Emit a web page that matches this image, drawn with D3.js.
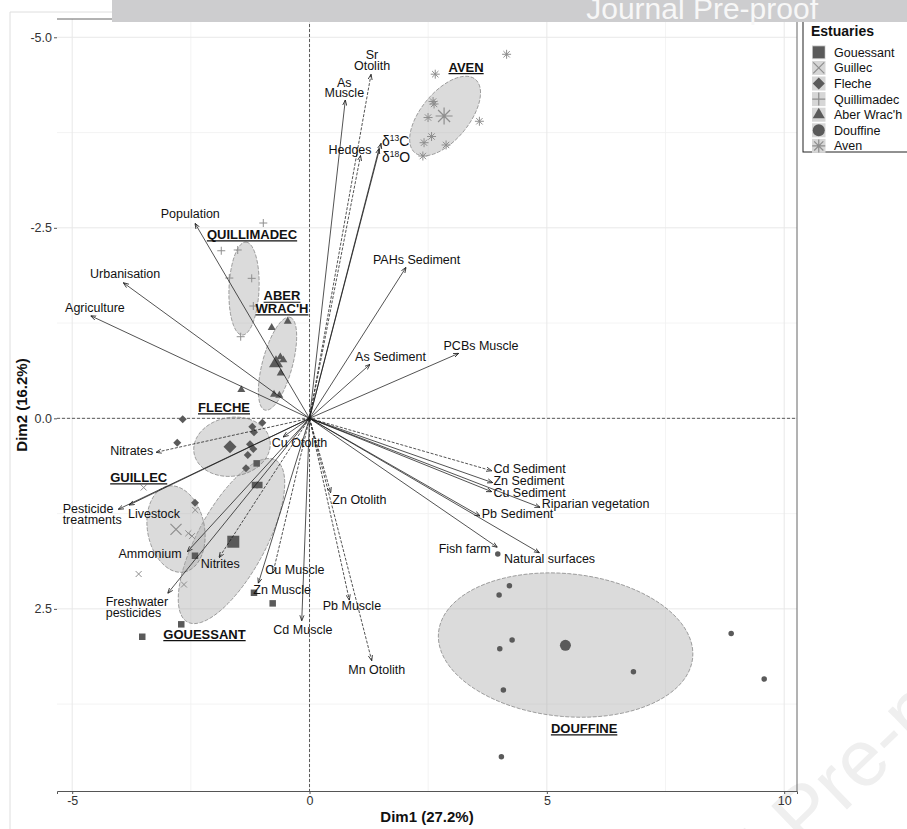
<!DOCTYPE html>
<html>
<head>
<meta charset="utf-8">
<script src="https://cdn.jsdelivr.net/npm/d3@7"></script>
<style>
  html, body { margin: 0; padding: 0; background: #fff; }
  svg { display: block; }
  text { font-family: "Liberation Sans", Arial, sans-serif; }
</style>
</head>
<body>
<svg id="chart" width="907" height="829"></svg>
<script>
// ---------------- data ----------------
const estuaries = ["Gouessant", "Guillec", "Fleche", "Quillimadec", "Aber Wrac'h", "Douffine", "Aven"];
const estuaryTitles = ["GOUESSANT", "GUILLEC", "FLECHE", "QUILLIMADEC", "ABER\nWRAC'H", "DOUFFINE", "AVEN"];

// individual coordinates [Dim1, Dim2] per estuary
const gouessantInd = [[-1.113, 0.591], [-1.149, 0.875], [-1.058, 0.875], [-2.413, 1.803], [-1.170, 2.289], [-0.776, 2.428], [-2.702, 2.703], [-3.524, 2.866]];
const guillecInd = [[-3.494, 0.908], [-2.407, 1.203], [-2.554, 1.509], [-2.476, 1.545], [-3.600, 2.043], [-2.645, 2.181]];
const flecheInd = [[-2.672, 0.013], [-0.995, 0.058], [-1.205, 0.110], [-1.170, 0.184], [-2.786, 0.320], [-1.254, 0.341], [-1.184, 0.403], [-1.302, 0.482], [-1.338, 0.656], [-2.413, 1.108]];
const quillimadecInd = [[-0.974, -2.563], [-1.859, -2.199], [-1.513, -2.209], [-1.690, -1.841], [-1.218, -1.837], [-1.184, -1.474], [-1.450, -1.071]];
const aberWrachInd = [[-0.459, -1.273], [-0.797, -1.189], [-0.615, -0.804], [-0.552, -0.765], [-0.607, -0.594], [-1.437, -0.375], [-0.748, -0.315], [-0.636, -0.302]];
const douffineInd = [[3.966, 1.781], [4.211, 2.197], [3.994, 2.319], [4.268, 2.909], [4.008, 3.024], [6.824, 3.325], [4.084, 3.566], [8.883, 2.822], [9.579, 3.421], [4.042, 4.441]];
const avenInd = [[4.152, -4.777], [2.649, -4.516], [2.603, -4.157], [2.624, -4.125], [2.497, -3.947], [3.579, -3.898], [2.571, -3.698], [2.413, -3.617], [2.877, -3.587], [2.388, -3.442]];
const individuals = [gouessantInd, guillecInd, flecheInd, quillimadecInd, aberWrachInd, douffineInd, avenInd];

// group means (null when not drawn)
const meanDim1 = [-1.606, -2.813, -1.675, null, -0.706, 5.391, 2.835];
const meanDim2 = [1.619, 1.457, 0.373, null, -0.722, 2.979, -3.967];

// concentration ellipses: centre and two semi-axis vectors, in Dim units
const ellipseCenter = [[-1.644, 1.610], [-2.813, 1.453], [-1.633, 0.373], [-1.380, -1.703], [-0.674, -0.717], [5.395, 2.975], [2.856, -3.967]];
const ellipseAxisA = [[0.927, -1.063], [0.169, 0.564], [0.801, -0.079], [0.042, -0.610], [0.263, -0.609], [2.677, 0.171], [0.640, -0.480]];
const ellipseAxisB = [[0.632, 0.210], [0.590, -0.066], [0.095, 0.381], [0.316, 0.013], [0.306, 0.051], [-0.158, 0.932], [0.385, 0.205]];

// variable loadings
const varNames = ["Sr Otolith", "As Muscle", "Hedges", "d13C", "d18O", "PAHs Sediment", "As Sediment", "PCBs Muscle",
  "Population", "Urbanisation", "Agriculture", "Nitrates", "Pesticide treatments", "Livestock", "Ammonium", "Nitrites",
  "Freshwater pesticides", "Cu Otolith", "Cu Muscle", "Zn Muscle", "Cd Muscle", "Zn Otolith", "Pb Muscle", "Mn Otolith",
  "Cd Sediment", "Zn Sediment", "Cu Sediment", "Riparian vegetation", "Pb Sediment", "Fish farm", "Natural surfaces"];
const varLabels = ["Sr\nOtolith", "As\nMuscle", "Hedges", "δ|13|C", "δ|18|O", "PAHs Sediment", "As Sediment", "PCBs Muscle",
  "Population", "Urbanisation", "Agriculture", "Nitrates", "Pesticide\ntreatments", "Livestock", "Ammonium", "Nitrites",
  "Freshwater\npesticides", "Cu Otolith", "Cu Muscle", "Zn Muscle", "Cd Muscle", "Zn Otolith", "Pb Muscle", "Mn Otolith",
  "Cd Sediment", "Zn Sediment", "Cu Sediment", "Riparian vegetation", "Pb Sediment", "Fish farm", "Natural surfaces"];
const varDim1 = [1.296, 0.754, 1.075, 1.507, 1.465, 2.034, 1.275, 3.144,
  -2.413, -3.924, -4.611, -3.235, -4.030, -3.804, -2.575, -1.907,
  -2.988, -0.558, -0.769, -1.079, -0.164, 0.447, 0.839, 1.311,
  3.840, 3.861, 3.840, 4.858, 3.593, 3.958, 4.843];
const varDim2 = [-4.514, -4.177, -3.449, -3.609, -3.541, -1.982, -0.709, -0.853,
  -2.559, -1.780, -1.346, 0.446, 1.194, 1.138, 1.751, 1.829,
  2.297, 0.245, 2.026, 2.165, 2.656, 0.976, 2.385, 3.181,
  0.688, 0.845, 0.963, 1.168, 1.282, 1.693, 1.764];

const xTicks = [-5, 0, 5, 10];
const yTicks = [-5, -2.5, 0, 2.5];
const xMinor = [-2.5, 2.5, 7.5];
const yMinor = [-3.75, -1.25, 1.25, 3.75];

// ---------------- styles & layout ----------------
const shapeOf = {"Gouessant": "square", "Guillec": "cross", "Fleche": "diamond", "Quillimadec": "plus",
  "Aber Wrac'h": "triangle", "Douffine": "circle", "Aven": "asterisk"};
const filledShapes = new Set(["square", "diamond", "triangle", "circle"]);
const smallSize = {square: 6.5, diamond: 8, triangle: 8, circle: 5.5, cross: 7, plus: 8, asterisk: 9};
const bigSize = {square: 12, diamond: 13, triangle: 14, circle: 11, cross: 13, plus: 12, asterisk: 17};
const darkGrey = "#5a5a5a", lightGrey = "#8e8e8e";
const dashedVars = new Set(["Sr Otolith", "Hedges", "Nitrates", "Nitrites", "Cu Muscle", "Zn Otolith", "Pb Muscle", "Mn Otolith", "Cd Sediment"]);

// label placement relative to the arrow tip (px): first-line centre
const labelLayout = {
  "Sr Otolith": [1, -19.5, "middle"], "As Muscle": [-1, -17.7, "middle"], "Hedges": [11, -5.5, "end"],
  "d13C": [1, -1.8, "start"], "d18O": [3, 9.2, "start"], "PAHs Sediment": [10.5, -7.3, "middle"],
  "As Sediment": [20.5, -7.6, "middle"], "PCBs Muscle": [22.3, -7.6, "middle"], "Population": [-4.7, -9.3, "middle"],
  "Urbanisation": [1.9, -8.7, "middle"], "Agriculture": [4.3, -8.4, "middle"], "Nitrates": [-2.7, -1.3, "end"],
  "Pesticide treatments": [-55.6, -1, "start"], "Livestock": [-1, 8.3, "start"], "Ammonium": [-5.6, 1.6, "end"],
  "Nitrites": [1.3, 6.3, "middle"], "Freshwater pesticides": [-62, 8.4, "start"], "Cu Otolith": [-11.3, 5.3, "start"],
  "Cu Muscle": [-7.7, -3.4, "start"], "Zn Muscle": [-5, 6, "start"], "Cd Muscle": [-28.4, 9.3, "start"],
  "Zn Otolith": [1.6, 6.6, "start"], "Pb Muscle": [-26.6, 6, "start"], "Mn Otolith": [5, 8.6, "middle"],
  "Cd Sediment": [1.6, -1.7, "start"], "Zn Sediment": [0.6, -1.7, "start"], "Cu Sediment": [1.6, 0.6, "start"],
  "Riparian vegetation": [1.7, -4, "start"], "Pb Sediment": [1.7, -2.7, "start"], "Fish farm": [-6.6, 1, "end"],
  "Natural surfaces": [-35.3, 5.6, "start"]
};
// estuary title offset from ellipse centre (px)
const titleOffset = [[-27, 93], [-37.3, -51.7], [-8, -39.4], [8, -54.2], [4.5, -68], [18.5, 83.3], [21, -49]];

// ---------------- drawing ----------------
const svg = d3.select("#chart");
const W = 907, H = 829;
const margin = {left: 57, right: 797, top: 19, bottom: 791};

// faint diagonal watermark
svg.append("text")
  .attr("transform", "translate(600,1048) rotate(-44)")
  .attr("font-family", "Liberation Serif, serif")
  .attr("font-size", 80)
  .attr("fill", "#efefef")
  .text("Journal Pre-proof");

// outer frame
svg.append("path").attr("d", `M10,829V12H907`).attr("fill", "none").attr("stroke", "#dedede").attr("stroke-width", 1);

const x = d3.scaleLinear().domain([-5.32, 10.27]).range([margin.left, margin.right]);
const y = d3.scaleLinear().domain([-5.24, 4.89]).range([margin.top, margin.bottom]);

const grid = svg.append("g");
grid.selectAll(".vmin").data(xMinor).join("line")
  .attr("x1", d => x(d)).attr("x2", d => x(d)).attr("y1", margin.top).attr("y2", margin.bottom)
  .attr("stroke", "#f0f0f0").attr("stroke-width", 0.8);
grid.selectAll(".hmin").data(yMinor).join("line")
  .attr("y1", d => y(d)).attr("y2", d => y(d)).attr("x1", margin.left).attr("x2", margin.right)
  .attr("stroke", "#f0f0f0").attr("stroke-width", 0.8);
grid.selectAll(".vmaj").data(xTicks).join("line")
  .attr("x1", d => x(d)).attr("x2", d => x(d)).attr("y1", margin.top).attr("y2", margin.bottom)
  .attr("stroke", "#e8e8e8").attr("stroke-width", 1);
grid.selectAll(".hmaj").data(yTicks).join("line")
  .attr("y1", d => y(d)).attr("y2", d => y(d)).attr("x1", margin.left).attr("x2", margin.right)
  .attr("stroke", "#e8e8e8").attr("stroke-width", 1);

// panel frame (top, right, bottom)
svg.append("path")
  .attr("d", `M${margin.left},${margin.top}H${margin.right}V${margin.bottom}`)
  .attr("fill", "none").attr("stroke", "#666").attr("stroke-width", 1);

// axes
const xAxis = svg.append("g").attr("transform", `translate(0,${margin.bottom})`)
  .call(d3.axisBottom(x).tickValues(xTicks).tickFormat(d => String(d)).tickSize(3).tickPadding(2));
const yAxis = svg.append("g").attr("transform", `translate(${margin.left},0)`)
  .call(d3.axisLeft(y).tickValues(yTicks).tickFormat(d => d.toFixed(1)).tickSize(3).tickPadding(2));
yAxis.select(".domain").remove();
xAxis.select(".domain").attr("stroke", "#555");
[xAxis, yAxis].forEach(a => {
  a.selectAll(".tick line").attr("stroke", "#555");
  a.selectAll(".tick text").attr("fill", "#333").attr("font-size", 12.5)
    .attr("font-family", "Liberation Sans, Arial, sans-serif");
});

// zero reference lines
svg.append("line").attr("x1", x(0)).attr("x2", x(0)).attr("y1", margin.top).attr("y2", margin.bottom)
  .attr("stroke", "#333").attr("stroke-width", 0.8).attr("stroke-dasharray", "3,2");
svg.append("line").attr("y1", y(0)).attr("y2", y(0)).attr("x1", margin.left).attr("x2", margin.right)
  .attr("stroke", "#333").attr("stroke-width", 0.8).attr("stroke-dasharray", "3,2");

// ellipses
const ellipsePath = i => {
  const c = ellipseCenter[i], a = ellipseAxisA[i], b = ellipseAxisB[i];
  const pts = d3.range(0, 361, 4).map(t => {
    const r = t * Math.PI / 180;
    return [x(c[0] + Math.cos(r) * a[0] + Math.sin(r) * b[0]), y(c[1] + Math.cos(r) * a[1] + Math.sin(r) * b[1])];
  });
  return d3.line()(pts) + "Z";
};
svg.append("g").selectAll("path").data(estuaries).join("path")
  .attr("d", (d, i) => ellipsePath(i))
  .attr("fill", "#a9a9a9").attr("fill-opacity", 0.42)
  .attr("stroke", "#7a7a7a").attr("stroke-width", 0.7).attr("stroke-dasharray", "4,1.5");

// symbols
function symbolPath(shape, s) {
  const r = s / 2;
  switch (shape) {
    case "square": return `M${-r},${-r}H${r}V${r}H${-r}Z`;
    case "diamond": return `M0,${-r}L${r},0L0,${r}L${-r},0Z`;
    case "triangle": { const h = s * 0.866; return `M0,${-h * 2 / 3}L${r},${h / 3}L${-r},${h / 3}Z`; }
    case "circle": return `M${r},0A${r},${r} 0 1,1 ${-r},0A${r},${r} 0 1,1 ${r},0Z`;
    case "plus": return `M${-r},0H${r}M0,${-r}V${r}`;
    case "cross": { const q = r * 0.85; return `M${-q},${-q}L${q},${q}M${-q},${q}L${q},${-q}`; }
    case "asterisk": { const q = r * 0.707; return `M${-r},0H${r}M0,${-r}V${r}M${-q},${-q}L${q},${q}M${-q},${q}L${q},${-q}`; }
  }
}
function styleSymbol(sel, shape, big) {
  if (filledShapes.has(shape)) sel.attr("fill", darkGrey).attr("stroke", "none");
  else sel.attr("fill", "none").attr("stroke", lightGrey).attr("stroke-width", big ? 1.2 : 1);
}

const pts = svg.append("g");
estuaries.forEach((name, i) => {
  const shape = shapeOf[name];
  const s = pts.selectAll(null).data(individuals[i]).join("path")
    .attr("transform", d => `translate(${x(d[0])},${y(d[1])})`)
    .attr("d", symbolPath(shape, smallSize[shape]));
  styleSymbol(s, shape, false);
  if (meanDim1[i] !== null) {
    const m = pts.append("path")
      .attr("transform", `translate(${x(meanDim1[i])},${y(meanDim2[i])})`)
      .attr("d", symbolPath(shape, bigSize[shape]));
    styleSymbol(m, shape, true);
  }
});

// arrows
const defs = svg.append("defs");
defs.append("marker").attr("id", "head").attr("viewBox", "0 0 10 10")
  .attr("refX", 10).attr("refY", 5).attr("markerWidth", 5.5).attr("markerHeight", 5.5)
  .attr("markerUnits", "userSpaceOnUse").attr("orient", "auto")
  .append("path").attr("d", "M0,1.2L10,5L0,8.8").attr("fill", "none")
  .attr("stroke", "#1a1a1a").attr("stroke-width", 1.4);

const arrows = svg.append("g");
varNames.forEach((n, i) => {
  arrows.append("line")
    .attr("x1", x(0)).attr("y1", y(0))
    .attr("x2", x(varDim1[i])).attr("y2", y(varDim2[i]))
    .attr("stroke", "#1a1a1a").attr("stroke-width", 0.75)
    .attr("stroke-dasharray", dashedVars.has(n) ? "3,1.5" : null)
    .attr("marker-end", "url(#head)");
});

// variable labels
const fs = 12.5, lh = 10.8;
const labels = svg.append("g").attr("font-size", fs).attr("fill", "#111");
varNames.forEach((n, i) => {
  const [dx, dy, anchor] = labelLayout[n];
  const px = x(varDim1[i]) + dx, py = y(varDim2[i]) + dy;
  const lines = varLabels[i].split("\n");
  lines.forEach((ln, k) => {
    const t = labels.append("text").attr("x", px).attr("y", py + k * lh + fs * 0.35).attr("text-anchor", anchor);
    if (ln.includes("|")) {
      const [a, sup, b] = ln.split("|");
      t.append("tspan").text(a).attr("font-size", 14);
      t.append("tspan").text(sup).attr("font-size", 8.5).attr("dy", -5);
      t.append("tspan").text(b).attr("font-size", 14).attr("dy", 5);
    } else t.text(ln);
  });
});

// estuary titles (bold, underlined)
const titles = svg.append("g").attr("font-size", 13).attr("font-weight", "bold").attr("fill", "#111");
estuaryTitles.forEach((tt, i) => {
  const c = ellipseCenter[i];
  const cx = x(c[0]) + titleOffset[i][0], cy = y(c[1]) + titleOffset[i][1];
  tt.split("\n").forEach((ln, k) => {
    const yy = cy + k * 12.6 + 13 * 0.35;
    const t = titles.append("text").attr("x", cx).attr("y", yy).attr("text-anchor", "middle").text(ln);
    const w = t.node().getComputedTextLength();
    titles.append("line").attr("x1", cx - w / 2).attr("x2", cx + w / 2)
      .attr("y1", yy + 2).attr("y2", yy + 2).attr("stroke", "#111").attr("stroke-width", 1.2);
  });
});

// axis titles
svg.append("text").attr("x", 427).attr("y", 822).attr("text-anchor", "middle")
  .attr("font-size", 15).attr("font-weight", "bold").attr("fill", "#111").text("Dim1 (27.2%)");
svg.append("text").attr("transform", "translate(27,405) rotate(-90)").attr("text-anchor", "middle")
  .attr("font-size", 15).attr("font-weight", "bold").attr("fill", "#111").text("Dim2 (16.2%)");

// legend
const lg = svg.append("g").attr("transform", "translate(803,19)");
lg.append("rect").attr("x", 0).attr("y", 0).attr("width", 120).attr("height", 133)
  .attr("fill", "#fff").attr("stroke", "#222").attr("stroke-width", 1);
lg.append("text").attr("x", 8).attr("y", 16.5).attr("font-size", 14).attr("font-weight", "bold")
  .attr("fill", "#111").text("Estuaries");
estuaries.forEach((name, i) => {
  const cy = 33.3 + i * 15.6;
  const shape = shapeOf[name];
  lg.append("rect").attr("x", 9).attr("y", cy - 7).attr("width", 13.5).attr("height", 14).attr("fill", "#d6d6d6");
  const s = lg.append("path").attr("transform", `translate(15.75,${cy})`)
    .attr("d", symbolPath(shape, filledShapes.has(shape) ? 12 : 13));
  styleSymbol(s, shape, true);
  lg.append("text").attr("x", 31).attr("y", cy + 4.4).attr("font-size", 12.5).attr("fill", "#111").text(name);
});

// header banner
svg.append("rect").attr("x", 112).attr("y", 0).attr("width", W - 112).attr("height", 22).attr("fill", "#cdcdcf");
svg.append("text").attr("x", 818).attr("y", 19).attr("text-anchor", "end")
  .attr("font-family", "Liberation Serif, serif").attr("font-size", 30).attr("fill", "#f7f7f7")
  .text("Journal Pre-proof");
</script>
</body>
</html>
